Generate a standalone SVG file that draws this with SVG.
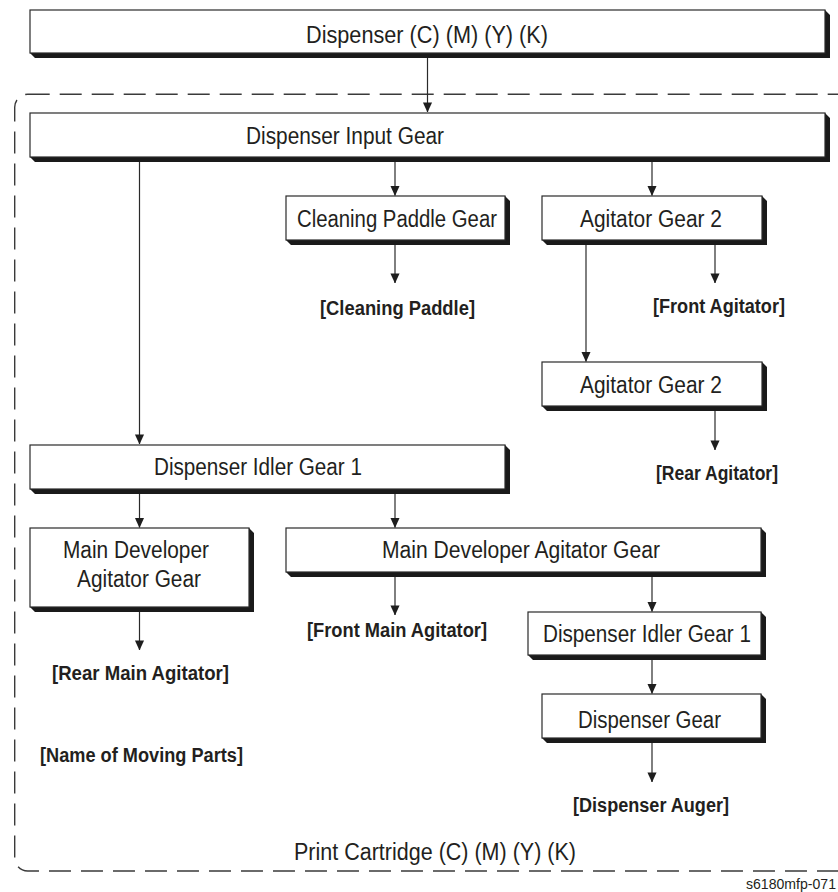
<svg xmlns="http://www.w3.org/2000/svg" width="838" height="892" viewBox="0 0 838 892">
  <defs>
    <marker id="tip" markerUnits="userSpaceOnUse" markerWidth="10" markerHeight="11" refX="10.5" refY="5" orient="auto" viewBox="0 0 11 10">
      <path d="M0,0 L11,5 L0,10 Z" fill="#1e1e1e"/>
    </marker>
  </defs>
  <style>
    .box { fill: #ffffff; stroke: #2a2a2a; stroke-width: 1.2; }
    .shadow { fill: #1a1a1a; }
    .lbl { font-family: "Liberation Sans", Arial, sans-serif; font-size: 23.5px; fill: #231f20; }
    .part { font-family: "Liberation Sans", Arial, sans-serif; font-size: 19.5px; font-weight: bold; fill: #231f20; }
    .wire { stroke: #2a2a2a; stroke-width: 1.2; fill: none; marker-end: url(#tip); }
    .frame { fill: none; stroke: #3a3a3a; stroke-width: 1.4; stroke-dasharray: 22 10; }
    .ref { font-family: "Liberation Sans", Arial, sans-serif; font-size: 14px; fill: #231f20; }
  </style>

  <rect width="838" height="892" fill="#ffffff"/>

  <!-- print cartridge boundary -->
  <g id="cartridge">
    <rect class="frame" x="14.7" y="94.3" width="836" height="776.7" rx="13" ry="13"/>
    <text class="lbl" x="294" y="860" textLength="282" lengthAdjust="spacingAndGlyphs">Print Cartridge (C) (M) (Y) (K)</text>
  </g>

  <!-- connectors -->
  <g id="connectors">
    <line class="wire" x1="427.5" y1="57" x2="427.5" y2="112"/>
    <line class="wire" x1="139.5" y1="162" x2="139.5" y2="444"/>
    <line class="wire" x1="395" y1="162" x2="395" y2="195.5"/>
    <line class="wire" x1="652" y1="162" x2="652" y2="195.5"/>
    <line class="wire" x1="395" y1="245" x2="395" y2="283"/>
    <line class="wire" x1="715" y1="245" x2="715" y2="283"/>
    <line class="wire" x1="586" y1="245" x2="586" y2="361.5"/>
    <line class="wire" x1="715" y1="411" x2="715" y2="450"/>
    <line class="wire" x1="139.5" y1="494" x2="139.5" y2="527.5"/>
    <line class="wire" x1="395" y1="494" x2="395" y2="527.5"/>
    <line class="wire" x1="139.5" y1="612" x2="139.5" y2="650"/>
    <line class="wire" x1="395" y1="577" x2="395" y2="615"/>
    <line class="wire" x1="652" y1="577" x2="652" y2="611.5"/>
    <line class="wire" x1="652" y1="660" x2="652" y2="693.5"/>
    <line class="wire" x1="652" y1="743" x2="652" y2="782"/>
  </g>

  <!-- gear nodes: shadow polygon + box + label -->
  <g id="dispenser">
    <polygon class="shadow" points="30,53 35,58 830,58 830,15 825,10 825,53"/>
    <rect class="box" x="30" y="10" width="795" height="43"/>
    <text class="lbl" x="306" y="43" textLength="242" lengthAdjust="spacingAndGlyphs">Dispenser (C) (M) (Y) (K)</text>
  </g>

  <g id="dispenser-input-gear">
    <polygon class="shadow" points="30,157 35,162 830,162 830,118 825,113 825,157"/>
    <rect class="box" x="30" y="113" width="795" height="44"/>
    <text class="lbl" x="246" y="144" textLength="198" lengthAdjust="spacingAndGlyphs">Dispenser Input Gear</text>
  </g>

  <g id="cleaning-paddle-gear">
    <polygon class="shadow" points="286,240 291,245 510,245 510,201 505,196 505,240"/>
    <rect class="box" x="286" y="196" width="219" height="44"/>
    <text class="lbl" x="297" y="227" textLength="200" lengthAdjust="spacingAndGlyphs">Cleaning Paddle Gear</text>
  </g>

  <g id="agitator-gear-2a">
    <polygon class="shadow" points="542,240 547,245 767,245 767,201 762,196 762,240"/>
    <rect class="box" x="542" y="196" width="220" height="44"/>
    <text class="lbl" x="580" y="227" textLength="142" lengthAdjust="spacingAndGlyphs">Agitator Gear 2</text>
  </g>

  <g id="agitator-gear-2b">
    <polygon class="shadow" points="542,406 547,411 767,411 767,367 762,362 762,406"/>
    <rect class="box" x="542" y="362" width="220" height="44"/>
    <text class="lbl" x="580" y="393" textLength="142" lengthAdjust="spacingAndGlyphs">Agitator Gear 2</text>
  </g>

  <g id="dispenser-idler-gear-1a">
    <polygon class="shadow" points="30,489 35,494 510,494 510,450 505,445 505,489"/>
    <rect class="box" x="30" y="445" width="475" height="44"/>
    <text class="lbl" x="154" y="475" textLength="208" lengthAdjust="spacingAndGlyphs">Dispenser Idler Gear 1</text>
  </g>

  <g id="main-developer-agitator-gear-rear">
    <polygon class="shadow" points="30,607 35,612 254,612 254,533 249,528 249,607"/>
    <rect class="box" x="30" y="528" width="219" height="79"/>
    <text class="lbl" x="63" y="558" textLength="146" lengthAdjust="spacingAndGlyphs">Main Developer</text>
    <text class="lbl" x="77" y="587" textLength="124" lengthAdjust="spacingAndGlyphs">Agitator Gear</text>
  </g>

  <g id="main-developer-agitator-gear-front">
    <polygon class="shadow" points="286,572 291,577 766,577 766,533 761,528 761,572"/>
    <rect class="box" x="286" y="528" width="475" height="44"/>
    <text class="lbl" x="382" y="558" textLength="278" lengthAdjust="spacingAndGlyphs">Main Developer Agitator Gear</text>
  </g>

  <g id="dispenser-idler-gear-1b">
    <polygon class="shadow" points="528,655 533,660 766,660 766,617 761,612 761,655"/>
    <rect class="box" x="528" y="612" width="233" height="43"/>
    <text class="lbl" x="543" y="642" textLength="208" lengthAdjust="spacingAndGlyphs">Dispenser Idler Gear 1</text>
  </g>

  <g id="dispenser-gear">
    <polygon class="shadow" points="542,738 547,743 766,743 766,699 761,694 761,738"/>
    <rect class="box" x="542" y="694" width="219" height="44"/>
    <text class="lbl" x="578" y="728" textLength="143" lengthAdjust="spacingAndGlyphs">Dispenser Gear</text>
  </g>

  <!-- moving parts -->
  <g id="cleaning-paddle">
    <text class="part" x="320" y="315" textLength="155" lengthAdjust="spacingAndGlyphs">[Cleaning Paddle]</text>
  </g>
  <g id="front-agitator">
    <text class="part" x="653" y="313" textLength="132" lengthAdjust="spacingAndGlyphs">[Front Agitator]</text>
  </g>
  <g id="rear-agitator">
    <text class="part" x="656" y="480" textLength="122" lengthAdjust="spacingAndGlyphs">[Rear Agitator]</text>
  </g>
  <g id="front-main-agitator">
    <text class="part" x="307" y="637" textLength="180" lengthAdjust="spacingAndGlyphs">[Front Main Agitator]</text>
  </g>
  <g id="rear-main-agitator">
    <text class="part" x="52" y="680" textLength="177" lengthAdjust="spacingAndGlyphs">[Rear Main Agitator]</text>
  </g>
  <g id="dispenser-auger">
    <text class="part" x="573" y="812" textLength="156" lengthAdjust="spacingAndGlyphs">[Dispenser Auger]</text>
  </g>
  <g id="legend">
    <text class="part" x="40" y="762" textLength="203" lengthAdjust="spacingAndGlyphs">[Name of Moving Parts]</text>
  </g>

  <text class="ref" x="746" y="889" textLength="90" lengthAdjust="spacingAndGlyphs">s6180mfp-071</text>
</svg>
